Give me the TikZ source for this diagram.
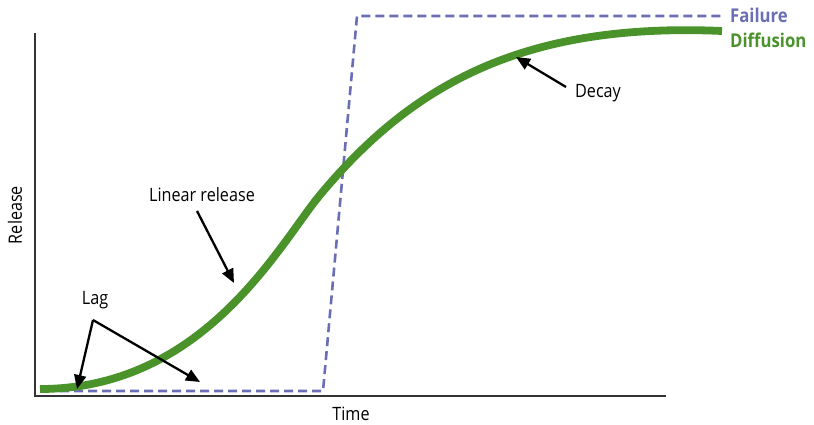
\documentclass[tikz,border=0pt]{standalone}
\usepackage{fontspec}
\setmainfont{Open Sans}[FakeStretch=0.88]
\usetikzlibrary{arrows.meta}
\definecolor{diffgreen}{HTML}{4A922A}
\definecolor{failblue}{HTML}{6A6EB4}
\definecolor{axisgray}{HTML}{333333}
\tikzset{
  axisline/.style={draw=axisgray,line width=1.5pt},
  diffcurve/.style={draw=diffgreen,line width=7.8pt},
  failcurve/.style={draw=failblue,line width=2.6pt,dash pattern=on 9pt off 5pt},
  callout/.style={draw=black,line width=2.3pt,-{Triangle[length=14pt,width=12pt]}},
  lbl/.style={font=\fontsize{18.4}{20}\selectfont,text=black,inner sep=0pt},
  key/.style={font=\fontsize{19}{21}\selectfont\bfseries,inner sep=0pt,anchor=west},
}
\begin{document}
\begin{tikzpicture}[x=1pt,y=-1pt]
\useasboundingbox (0,0) rectangle (814,425);
% axes
\draw[axisline] (35,33) -- (35,396) -- (666,396);
% failure (burst) profile
\draw[failcurve] (60,391) -- (323,391) -- (357,16) -- (722,16);
% diffusion profile: two cubic pieces joined at the inflection point
\coordinate (start) at (40,389);
\coordinate (infl) at (320,195);
\coordinate (plateau) at (722,31);
\draw[diffcurve] (start) .. controls (205,389) and (280,243) .. (infl)
  .. controls (410,87) and (520,22) .. (plateau);
% legend
\node[key,text=failblue] (kf) at (730,15) {Failure};
\node[key,text=diffgreen] (kd) at (730,40) {Diffusion};
% axis titles
\node[lbl] (tx) at (351,414) {Time};
\node[lbl,rotate=90] (ty) at (15,215) {Release};
% annotations
\node[lbl] (lag) at (95,300) {Lag};
\node[lbl] (lin) at (202,195) {Linear release};
\node[lbl] (dec) at (598,93) {Decay};
\coordinate (lagfork) at (93,320);
\coordinate (lagA) at (77,389);
\coordinate (lagB) at (200,382);
\coordinate (linS) at (197,211);
\coordinate (linT) at (234,283);
\coordinate (decS) at (566,87);
\coordinate (decT) at (516,57);
\draw[callout] (lagfork) -- (lagA);
\draw[callout] (lagfork) -- (lagB);
\draw[callout] (linS) -- (linT);
\draw[callout] (decS) -- (decT);
\end{tikzpicture}
\end{document}
